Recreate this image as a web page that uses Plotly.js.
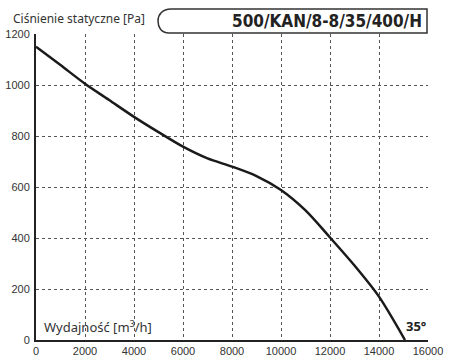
<!DOCTYPE html>
<html><head><meta charset="utf-8">
<script src="https://cdn.plot.ly/plotly-3.0.1.min.js"></script>
<style>html,body{margin:0;padding:0;background:#fff;}#chart{width:450px;height:363px;}</style>
</head><body><div id="chart"></div>
<script>
const flow = [0, 1000, 2000, 3000, 4000, 5000, 6000, 7000, 8000, 9000, 10000, 11000, 12000, 13000, 14000, 15060];
const pressure = [1150, 1078, 1005, 940, 875, 815, 758, 712, 680, 643, 588, 508, 402, 292, 170, 0];
const xTicks = [0, 2000, 4000, 6000, 8000, 10000, 12000, 14000, 16000];
const yTicks = [0, 200, 400, 600, 800, 1000, 1200];
const modelName = '500/KAN/8-8/35/400/H';
const yLabel = 'Ciśnienie statyczne [Pa]';
const xLabel = 'Wydajność [m<sup>3</sup>/h]';
const angleLabel = '35°';

const W = 450, H = 363, L = 36, R = 22, T = 34, B = 23;
const pw = W - L - R, ph = H - T - B;
const px = v => (v - L) / pw;
const py = v => (H - B - v) / ph;

const boxPath = 'M ' + px(171) + ',' + py(9) + ' L ' + px(427) + ',' + py(9) + ' L ' + px(427) + ',' + py(33) +
  ' L ' + px(169) + ',' + py(33) + ' C ' + px(161) + ',' + py(33) + ' ' + px(158) + ',' + py(27) + ' ' + px(158) + ',' + py(21) +
  ' C ' + px(158) + ',' + py(15) + ' ' + px(162) + ',' + py(9) + ' ' + px(171) + ',' + py(9) + ' Z';

const axisCommon = {
  showgrid: true, gridcolor: '#555', griddash: 'dot', gridwidth: 1,
  zeroline: false, showline: true, linecolor: '#222', linewidth: 2,
  ticks: '', tickfont: {family: 'Liberation Sans, Arial, sans-serif', size: 11, color: '#333'},
  fixedrange: true
};

Plotly.newPlot('chart', [{
  x: flow, y: pressure, type: 'scatter', mode: 'lines',
  line: {color: '#1a1a1a', width: 2.5, shape: 'spline', smoothing: 0.8},
  hoverinfo: 'skip'
}], {
  width: W, height: H,
  margin: {l: L, r: R, t: T, b: B, pad: 0},
  paper_bgcolor: '#fff', plot_bgcolor: '#fff',
  showlegend: false,
  xaxis: Object.assign({}, axisCommon, {range: [0, 16000], tickvals: xTicks, ticktext: xTicks.map(String)}),
  yaxis: Object.assign({}, axisCommon, {range: [0, 1200], tickvals: yTicks, ticktext: yTicks.map(String), ticklabelstandoff: 2}),
  shapes: [{type: 'path', xref: 'paper', yref: 'paper', path: boxPath, fillcolor: '#fff', line: {color: '#333', width: 1.5}, layer: 'above'}],
  annotations: [
    {text: '<b>' + modelName + '</b>', xref: 'paper', yref: 'paper', x: px(424), y: py(21), xanchor: 'right', yanchor: 'middle', showarrow: false,
     font: {family: 'Liberation Sans Narrow, DejaVu Sans Condensed, sans-serif', size: 17, color: '#222'}},
    {text: yLabel, xref: 'paper', yref: 'paper', x: px(11), y: py(19), xanchor: 'left', yanchor: 'middle', showarrow: false,
     font: {family: 'Noto Sans, sans-serif', size: 12, color: '#333'}},
    {text: xLabel, xref: 'paper', yref: 'paper', x: px(42), y: py(326), xanchor: 'left', yanchor: 'middle', showarrow: false,
     font: {family: 'Noto Sans, sans-serif', size: 13, color: '#333'}},
    {text: '<b>' + angleLabel + '</b>', xref: 'paper', yref: 'paper', x: px(428), y: py(326), xanchor: 'right', yanchor: 'middle', showarrow: false,
     font: {family: 'Noto Sans, sans-serif', size: 13, color: '#222'}}
  ]
}, {staticPlot: true});
</script></body></html>
